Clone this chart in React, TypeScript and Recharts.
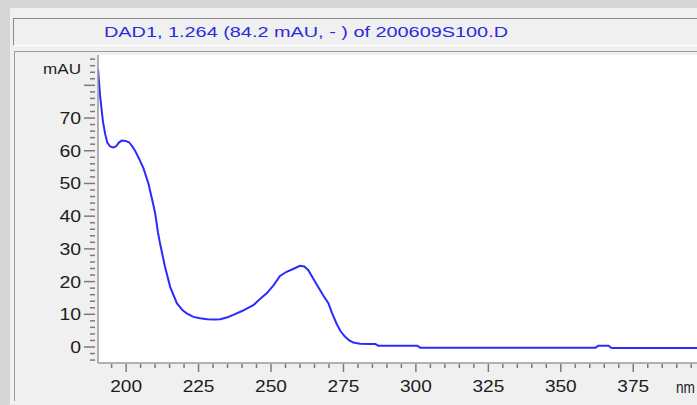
import React from 'react';
import { LineChart, Line, XAxis, YAxis, CartesianGrid } from 'recharts';

// wavelength (nm) and absorbance (mAU)
const wavelengths = [
  190.3, 191.0, 191.5, 192.0, 192.8, 193.5, 194.5, 195.5, 196.5, 197.5, 198.5,
  199.8, 201.0, 202.0, 203.1, 204.5, 206.0, 207.7, 209.0, 210.0, 211.0, 211.7,
  213.4, 215.2, 217.5, 219.5, 220.9, 223.2, 225.5, 228.0, 230.5, 232.5, 235.0,
  237.0, 240.0, 243.9, 246.0, 248.5, 251.0, 253.1, 255.4, 258.0, 260.0, 261.5,
  262.9, 264.5, 266.9, 268.0, 269.8, 271.0, 272.6, 274.0, 275.5, 277.0, 278.4,
  280.7, 284.0, 286.0, 287.0, 300.5, 301.5, 362.0, 363.0, 366.5, 367.5, 397.0,
];
const absorbance = [
  85.0, 77.0, 73.0, 69.0, 65.0, 62.5, 61.3, 61.0, 61.3, 62.5, 63.1,
  63.0, 62.6, 61.5, 60.0, 57.5, 54.6, 50.0, 45.0, 41.0, 35.0, 31.7,
  24.6, 18.4, 13.4, 11.2, 10.3, 9.2, 8.8, 8.5, 8.4, 8.5, 9.1,
  9.8, 11.0, 12.8, 14.5, 16.4, 19.0, 21.7, 23.0, 24.0, 24.8, 24.6,
  23.5, 21.0, 17.4, 15.8, 13.4, 10.5, 7.2, 4.8, 3.2, 2.0, 1.4,
  1.0, 0.9, 0.9, 0.4, 0.4, -0.2, -0.2, 0.4, 0.4, -0.3, -0.3,
];

const xMajor = [200, 225, 250, 275, 300, 325, 350, 375];
const yMajor = [0, 10, 20, 30, 40, 50, 60, 70];

const title = 'DAD1, 1.264 (84.2 mAU, - ) of 200609S100.D';

const data = wavelengths.map((nm, i) => ({ nm, mau: absorbance[i] }));

const xTicks: number[] = [];
for (let v = 195; v <= 395; v += 5) xTicks.push(v);
const yTicks: number[] = [];
for (let v = -4; v <= 88; v += 2) yTicks.push(v);

const PLOT_LEFT = 98;
const PLOT_BOTTOM = 363;
const FONT = '"Liberation Sans", Arial, sans-serif';
const TICK_COLOR = '#7a7a7a';

function XTick(props: any) {
  const { x, payload } = props;
  const v = payload.value;
  const major = v % 25 === 0;
  return (
    <g>
      <line x1={x} x2={x} y1={PLOT_BOTTOM + 1} y2={PLOT_BOTTOM + (major ? 9 : 5)} stroke={TICK_COLOR} strokeWidth={1.5} />
      {xMajor.includes(v) && (
        <text
          x={x}
          y={392}
          textAnchor="middle"
          fontFamily={FONT}
          fontSize={16}
          fill="#1c1c1c"
          textLength={String(v).length * 10.6}
          lengthAdjust="spacingAndGlyphs"
        >
          {v}
        </text>
      )}
    </g>
  );
}

function YTick(props: any) {
  const { y, payload } = props;
  const v = payload.value;
  const major = v % 10 === 0;
  return (
    <g>
      <line x1={major ? 84 : 90} x2={95} y1={y} y2={y} stroke={TICK_COLOR} strokeWidth={1.5} />
      {yMajor.includes(v) && (
        <text
          x={81}
          y={y + 6}
          textAnchor="end"
          fontFamily={FONT}
          fontSize={16}
          fill="#1c1c1c"
          textLength={String(v).length * 10.8}
          lengthAdjust="spacingAndGlyphs"
        >
          {v}
        </text>
      )}
    </g>
  );
}

export default function App() {
  return (
    <div style={{ position: 'fixed', left: 0, top: 0, width: 697, height: 405, overflow: 'hidden', background: '#d6d6d6' }}>
      <div style={{ position: 'absolute', left: 10, top: 8, right: 0, bottom: 0, background: '#f0f0f0' }} />
      {/* title box */}
      <div
        style={{
          position: 'absolute',
          left: 13,
          top: 18,
          width: 720,
          height: 26,
          borderTop: '1px solid #8a8a8a',
          borderLeft: '1px solid #8a8a8a',
          borderBottom: '1px solid #ffffff',
          background: '#f0f0f0',
        }}
      />
      <svg style={{ position: 'absolute', left: 0, top: 0 }} width={697} height={50}>
        <text x={104} y={37} fontFamily={FONT} fontSize={15} fill="#2a2ae0" textLength={404} lengthAdjust="spacingAndGlyphs">
          {title}
        </text>
      </svg>
      {/* plot panel */}
      <div
        style={{
          position: 'absolute',
          left: 14,
          top: 51,
          width: 720,
          height: 349,
          borderTop: '1px solid #9a9a9a',
          borderLeft: '1px solid #9a9a9a',
          background: '#f0f0f0',
        }}
      />
      <div style={{ position: 'absolute', left: 0, top: 0 }}>
        <LineChart width={697} height={405} data={data} margin={{ top: 55, right: 0, bottom: 0, left: 0 }}>
          <CartesianGrid horizontal={false} vertical={false} fill="#ffffff" />
          <XAxis
            dataKey="nm"
            type="number"
            domain={[190.3, 397]}
            ticks={xTicks}
            interval={0}
            height={42}
            tickLine={false}
            axisLine={{ stroke: '#9a9a9a', strokeWidth: 1.5 }}
            tick={(p: any) => <XTick {...p} />}
            allowDataOverflow
          />
          <YAxis
            type="number"
            domain={[-4.89, 89.27]}
            ticks={yTicks}
            interval={0}
            width={PLOT_LEFT}
            tickLine={false}
            axisLine={{ stroke: '#9a9a9a', strokeWidth: 1.5 }}
            tick={(p: any) => <YTick {...p} />}
            allowDataOverflow
          />
          <Line
            type="linear"
            dataKey="mau"
            stroke="#2b2bff"
            strokeWidth={2}
            dot={false}
            isAnimationActive={false}
          />
        </LineChart>
      </div>
      <svg style={{ position: 'absolute', left: 0, top: 0, pointerEvents: 'none' }} width={697} height={405}>
        <text x={81} y={74} textAnchor="end" fontFamily={FONT} fontSize={15} fill="#1c1c1c" textLength={38} lengthAdjust="spacingAndGlyphs">
          mAU
        </text>
        <text x={676} y={393} fontFamily={FONT} fontSize={16} fill="#1c1c1c" textLength={19} lengthAdjust="spacingAndGlyphs">
          nm
        </text>
      </svg>
    </div>
  );
}
